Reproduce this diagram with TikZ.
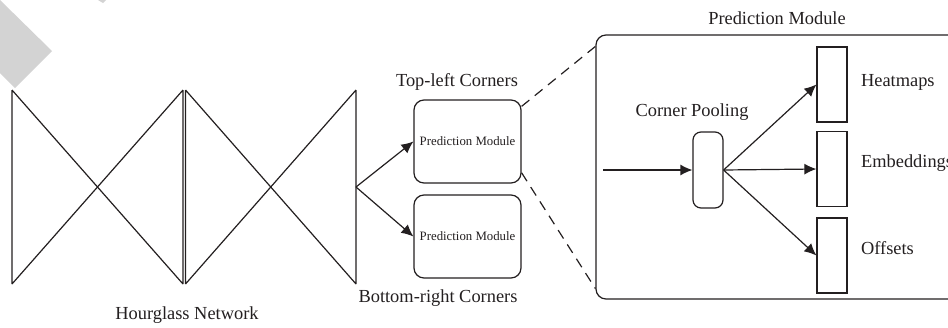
\documentclass[tikz,border=0pt]{standalone}
\usepackage{fontspec}
\setmainfont{Liberation Serif}
\usepackage{xcolor}
\usepackage{tikz}
\usetikzlibrary{arrows.meta,positioning,calc}

\definecolor{ink}{HTML}{231F20}
\definecolor{markgray}{HTML}{D3D3D3}

\begin{document}
\begin{tikzpicture}[
    x=0.5pt, y=-0.5pt,
    every node/.style={text=ink, font=\fontsize{9.2}{11}\selectfont},
    line/.style={draw=ink, line width=0.6pt},
    arrow/.style={line, -{Latex[length=6pt,width=5.5pt]}},
    module/.style={line, rectangle, rounded corners=5pt, minimum width=53.5pt, minimum height=41.5pt, inner sep=0pt, font=\fontsize{6.4}{8}\selectfont},
    pool/.style={line, rectangle, rounded corners=4pt, minimum width=15pt, minimum height=38pt, inner sep=0pt},
    outmap/.style={line, rectangle, minimum width=15pt, minimum height=37.5pt, inner sep=0pt}
]
    \useasboundingbox (0,0) rectangle (948,327);

    % grey mark in the corner
    \fill[markgray] (0,0) -- (52,51) -- (15,88) -- (0,73) -- cycle;
    \fill[markgray] (98,0) -- (106,0) -- (103,3) -- cycle;

    % Hourglass network (two stacked hourglasses)
    \coordinate (hgin) at (12,187);
    \coordinate (hgout) at (356,187);
    \draw[line] (12,90) -- (12,284) (12,90) -- (183,284) (12,284) -- (183,90) (183,90) -- (183,284);
    \draw[line] (185.5,90) -- (185.5,284) (185.5,90) -- (356,284) (185.5,284) -- (356,90) (356,90) -- (356,284);
    \node (hgname) at (187,315) {Hourglass Network};

    % Corner branches
    \node[module] (tl) at (467.5,141.5) {Prediction Module};
    \node[module] (br) at (467.5,236.5) {Prediction Module};
    \node (tlname) at (457,82) {Top-left Corners};
    \node (brname) at (438,298) {Bottom-right Corners};

    \draw[arrow] (hgout) -- (tl.west);
    \draw[arrow] (hgout) -- (br.west);

    % Prediction module (expanded)
    \node[line, rectangle, rounded corners=5pt, minimum width=181pt, minimum height=132pt, inner sep=0pt] (pm) at (777,167) {};
    \node (pmname) at (777,18) {Prediction Module};

    \draw[line, dashed, dash pattern=on 5pt off 3.5pt] (tl.33) -- ($(pm.north west)+(0,12)$);
    \draw[line, dashed, dash pattern=on 5pt off 3.5pt] (tl.-30) -- ($(pm.south west)+(0,-11)$);

    \node[pool] (cp) at (708,170) {};
    \node (cpname) at (692,112) {Corner Pooling};
    \coordinate (pmin) at (603,170);

    \node[outmap] (hm) at (832,84.5) {};
    \node[outmap] (emb) at (832,169) {};
    \node[outmap] (off) at (832,255.5) {};

    \node[anchor=west] (hmname) at (854,82) {Heatmaps};
    \node[anchor=west] (embname) at (854,163) {Embeddings};
    \node[anchor=west] (offname) at (854,248) {Offsets};

    \draw[arrow] (pmin) -- (cp.west);
    \draw[arrow] (cp.east) -- (hm.west);
    \draw[arrow] (cp.east) -- (emb.west);
    \draw[arrow] (cp.east) -- (off.west);

\end{tikzpicture}
\end{document}
